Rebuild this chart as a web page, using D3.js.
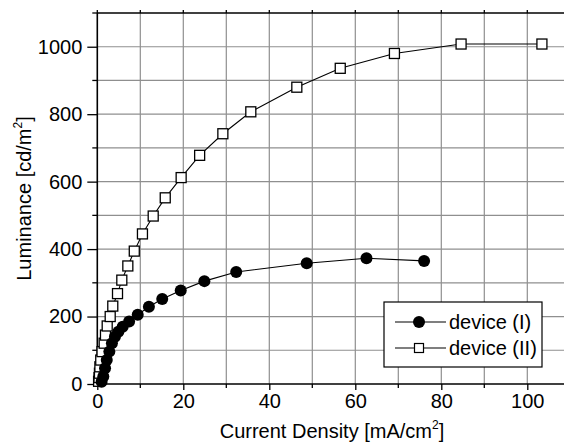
<!DOCTYPE html>
<html>
<head>
<meta charset="utf-8">
<script src="https://cdn.jsdelivr.net/npm/d3@7"></script>
<style>
  html, body { margin: 0; padding: 0; background: #fff; }
  svg { display: block; font-family: "Liberation Sans", Arial, sans-serif; }
</style>
</head>
<body>
<svg id="chart" width="564" height="443"></svg>
<script>
// Luminance vs. current density for two devices
const deviceIX = [1.0, 1.4, 1.8, 2.2, 2.8, 3.4, 4.1, 4.9, 5.9, 7.4, 9.4, 12.0, 15.1, 19.4, 24.9, 32.3, 48.7, 62.6, 76.0];
const deviceIY = [7, 22, 47, 71, 96, 121, 140, 155, 170, 185, 205, 229, 252, 277, 305, 332, 358, 373, 365];

const deviceIIX = [0.3, 0.4, 0.5, 0.6, 0.8, 1.1, 1.6, 1.9, 2.3, 3.0, 3.6, 4.7, 5.7, 7.1, 8.6, 10.5, 13.0, 15.8, 19.5, 23.8, 29.2, 35.7, 46.4, 56.5, 69.1, 84.6, 103.4];
const deviceIIY = [8, 19, 32, 51, 71, 96, 121, 145, 172, 200, 231, 268, 308, 350, 394, 445, 498, 552, 612, 678, 742, 807, 880, 936, 980, 1008, 1008];

const xTicks = [0, 20, 40, 60, 80, 100];
const yTicks = [0, 200, 400, 600, 800, 1000];
const seriesNames = ["device (I)", "device (II)"];

const svg = d3.select("#chart");
const pLeft = 97.3, pTop = 13, pBottom = 384, pRight = 570.3;

const x = d3.scaleLinear().domain([0, 110]).range([pLeft, pRight]);
const y = d3.scaleLinear().domain([0, 1100]).range([pBottom, pTop]);

// grid
const grid = svg.append("g").attr("stroke", "#8f8f8f").attr("stroke-width", 1.2);
grid.selectAll("line.v").data(d3.range(10, 110, 10)).join("line").attr("class", "v")
  .attr("x1", d => x(d)).attr("x2", d => x(d)).attr("y1", pTop).attr("y2", pBottom);
grid.selectAll("line.h").data(d3.range(100, 1100, 100)).join("line").attr("class", "h")
  .attr("y1", d => y(d)).attr("y2", d => y(d)).attr("x1", pLeft).attr("x2", pRight);

// axes
const xAxis = d3.axisBottom(x).tickValues(xTicks).tickSize(6).tickPadding(4).tickFormat(d3.format("d"));
const gx = svg.append("g").attr("transform", `translate(0,${pBottom})`).call(xAxis);
gx.selectAll(".tick line").attr("stroke-width", 1.3);
gx.append("g").selectAll("line").data(d3.range(10, 110, 20)).join("line")
  .attr("x1", d => x(d)).attr("x2", d => x(d)).attr("y1", 0).attr("y2", 4)
  .attr("stroke", "#000").attr("stroke-width", 1.3);

const yAxis = d3.axisLeft(y).tickValues(yTicks).tickSize(10).tickPadding(5).tickFormat(d3.format("d"));
const gy = svg.append("g").attr("transform", `translate(${pLeft},0)`).call(yAxis);
gy.selectAll(".tick line").attr("stroke-width", 1.3);
gy.append("g").selectAll("line").data(d3.range(100, 1200, 200)).join("line")
  .attr("y1", d => y(d)).attr("y2", d => y(d)).attr("x1", 0).attr("x2", -5)
  .attr("stroke", "#000").attr("stroke-width", 1.3);

[gx, gy].forEach(g => {
  g.select(".domain").attr("stroke", "#000").attr("stroke-width", 1.6);
  g.selectAll(".tick text").attr("font-size", 20).attr("fill", "#000")
    .attr("font-family", "'Liberation Sans', Arial, sans-serif");
});
gx.select(".domain").attr("d", `M${pLeft},0H${pRight}`);
gy.select(".domain").attr("d", `M0,${pBottom}V${pTop}`);

// top frame with short ticks
svg.append("line").attr("x1", pLeft).attr("x2", pRight).attr("y1", pTop).attr("y2", pTop)
  .attr("stroke", "#000").attr("stroke-width", 1.6);
svg.append("g").selectAll("line").data(d3.range(0, 110, 10)).join("line")
  .attr("x1", d => x(d)).attr("x2", d => x(d)).attr("y1", pTop).attr("y2", pTop - 3)
  .attr("stroke", "#000").attr("stroke-width", 1.3);

// axis titles
const xt = svg.append("text").attr("x", 332).attr("y", 438).attr("text-anchor", "middle")
  .attr("font-size", 20).attr("fill", "#000");
xt.append("tspan").text("Current Density [mA/cm");
xt.append("tspan").attr("font-size", 12).attr("dy", -9).text("2");
xt.append("tspan").attr("dy", 9).text("]");

const yt = svg.append("text").attr("transform", `translate(31,${(pTop + pBottom) / 2}) rotate(-90)`)
  .attr("text-anchor", "middle").attr("font-size", 20).attr("fill", "#000");
yt.append("tspan").text("Luminance [cd/m");
yt.append("tspan").attr("font-size", 12).attr("dy", -9).text("2");
yt.append("tspan").attr("dy", 9).text("]");

// series
const line = d3.line().x(d => x(d[0])).y(d => y(d[1]));
const dataI = deviceIX.map((v, i) => [v, deviceIY[i]]);
const dataII = deviceIIX.map((v, i) => [v, deviceIIY[i]]);

svg.append("path").datum(dataII).attr("d", line).attr("fill", "none").attr("stroke", "#000").attr("stroke-width", 1.1);
svg.append("path").datum(dataI).attr("d", line).attr("fill", "none").attr("stroke", "#000").attr("stroke-width", 1.1);

svg.append("g").selectAll("rect").data(dataII).join("rect")
  .attr("x", d => x(d[0]) - 5).attr("y", d => y(d[1]) - 5).attr("width", 10).attr("height", 10)
  .attr("fill", "#fff").attr("stroke", "#000").attr("stroke-width", 1.3);

svg.append("g").selectAll("circle").data(dataI).join("circle")
  .attr("cx", d => x(d[0])).attr("cy", d => y(d[1])).attr("r", 6).attr("fill", "#000");

// legend
const lg = svg.append("g");
lg.append("rect").attr("x", 384).attr("y", 302).attr("width", 158).attr("height", 65)
  .attr("fill", "#fff").attr("stroke", "#000").attr("stroke-width", 1.2);
const rows = [322, 348];
rows.forEach((ry, i) => {
  lg.append("line").attr("x1", 395).attr("x2", 446).attr("y1", ry).attr("y2", ry)
    .attr("stroke", "#000").attr("stroke-width", 1.1);
  if (i === 0) {
    lg.append("circle").attr("cx", 419).attr("cy", ry).attr("r", 6).attr("fill", "#000");
  } else {
    lg.append("rect").attr("x", 414.5).attr("y", ry - 4.5).attr("width", 9).attr("height", 9)
      .attr("fill", "#fff").attr("stroke", "#000").attr("stroke-width", 1.2);
  }
  lg.append("text").attr("x", 449).attr("y", ry + 7).attr("font-size", 20).attr("fill", "#000")
    .text(seriesNames[i]);
});
</script>
</body>
</html>
